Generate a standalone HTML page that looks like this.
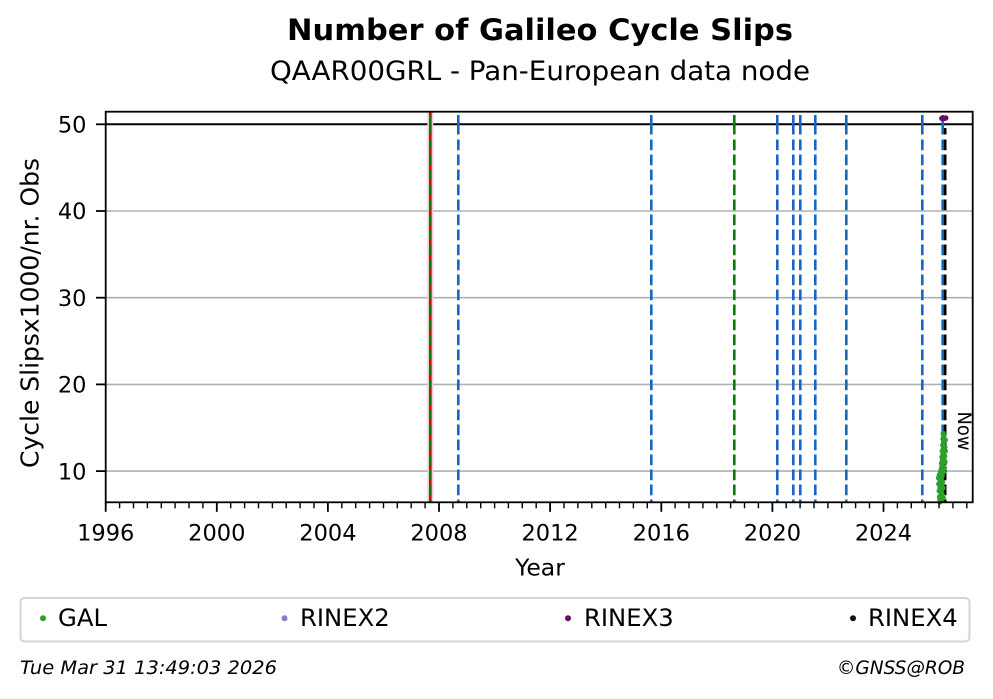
<!DOCTYPE html>
<html>
<head>
<meta charset="utf-8">
<style>
html,body{margin:0;padding:0;background:#fff;}
svg{display:block;}
text{font-family:"DejaVu Sans","Liberation Sans",sans-serif;fill:#000;}
</style>
</head>
<body>
<svg width="993" height="699" viewBox="0 0 993 699" xmlns="http://www.w3.org/2000/svg">
<rect x="0" y="0" width="993" height="699" fill="#fff"/>

<!-- Titles -->
<text x="540" y="40" text-anchor="middle" font-size="29" font-weight="bold" textLength="506" lengthAdjust="spacingAndGlyphs">Number of Galileo Cycle Slips</text>
<text x="540" y="80" text-anchor="middle" font-size="27" textLength="540" lengthAdjust="spacingAndGlyphs">QAAR00GRL - Pan-European data node</text>

<!-- Grid lines -->
<g stroke="#b0b0b0" stroke-width="1.6">
<line x1="105.7" y1="471.1" x2="972.7" y2="471.1"/>
<line x1="105.7" y1="384.4" x2="972.7" y2="384.4"/>
<line x1="105.7" y1="297.7" x2="972.7" y2="297.7"/>
<line x1="105.7" y1="211" x2="972.7" y2="211"/>
</g>
<!-- hline at 50 -->
<line x1="105.7" y1="124.3" x2="972.7" y2="124.3" stroke="#000" stroke-width="2"/>

<!-- Vertical event lines -->
<line x1="430.3" y1="111.7" x2="430.3" y2="502.3" stroke="#f6caca" stroke-width="6"/>
<line x1="430.3" y1="111.7" x2="430.3" y2="502.3" stroke="#e00000" stroke-width="2.6"/>
<g stroke="#0a7a0a" stroke-width="2.6">
<line x1="430.3" y1="115" x2="430.3" y2="134.5"/>
<line x1="430.3" y1="139.5" x2="430.3" y2="502.3" stroke-dasharray="10.7 4.3"/>
</g>

<g stroke="#1766c2" stroke-width="2.6">
<line x1="458.3" y1="115" x2="458.3" y2="134.5"/><line x1="458.3" y1="139.5" x2="458.3" y2="502.3" stroke-dasharray="10.7 4.3"/>
<line x1="651.3" y1="115" x2="651.3" y2="134.5"/><line x1="651.3" y1="139.5" x2="651.3" y2="502.3" stroke-dasharray="10.7 4.3"/>
<line x1="777.3" y1="115" x2="777.3" y2="134.5"/><line x1="777.3" y1="139.5" x2="777.3" y2="502.3" stroke-dasharray="10.7 4.3"/>
<line x1="793.3" y1="115" x2="793.3" y2="134.5"/><line x1="793.3" y1="139.5" x2="793.3" y2="502.3" stroke-dasharray="10.7 4.3"/>
<line x1="800.3" y1="115" x2="800.3" y2="134.5"/><line x1="800.3" y1="139.5" x2="800.3" y2="502.3" stroke-dasharray="10.7 4.3"/>
<line x1="815.3" y1="115" x2="815.3" y2="134.5"/><line x1="815.3" y1="139.5" x2="815.3" y2="502.3" stroke-dasharray="10.7 4.3"/>
<line x1="846.3" y1="115" x2="846.3" y2="134.5"/><line x1="846.3" y1="139.5" x2="846.3" y2="502.3" stroke-dasharray="10.7 4.3"/>
<line x1="922.3" y1="115" x2="922.3" y2="134.5"/><line x1="922.3" y1="139.5" x2="922.3" y2="502.3" stroke-dasharray="10.7 4.3"/>
<line x1="942.7" y1="115" x2="942.7" y2="134.5"/><line x1="942.7" y1="139.5" x2="942.7" y2="502.3" stroke-dasharray="10.7 4.3"/>
</g>
<g stroke="#0a7a0a" stroke-width="2.6">
<line x1="734.3" y1="115" x2="734.3" y2="134.5"/><line x1="734.3" y1="139.5" x2="734.3" y2="502.3" stroke-dasharray="10.7 4.3"/>
</g>
<g stroke="#000" stroke-width="2.6">
<line x1="945.2" y1="128" x2="945.2" y2="134.5"/><line x1="945.2" y1="139.5" x2="945.2" y2="502.3" stroke-dasharray="10.7 4.3"/>
</g>

<!-- GAL data points -->
<g fill="#2ca02c">
<circle cx="940" cy="500" r="2.7"/><circle cx="940.5" cy="496" r="2.7"/><circle cx="941" cy="492" r="2.7"/>
<circle cx="940" cy="488" r="2.7"/><circle cx="941.5" cy="485" r="2.7"/><circle cx="940.2" cy="481" r="2.7"/>
<circle cx="941" cy="478" r="2.7"/><circle cx="939.3" cy="475" r="2.7"/><circle cx="940.6" cy="472" r="2.7"/>
<circle cx="941.3" cy="469" r="2.7"/><circle cx="942" cy="466" r="2.7"/><circle cx="941.5" cy="463" r="2.7"/>
<circle cx="942.5" cy="460" r="2.7"/><circle cx="942" cy="457" r="2.7"/><circle cx="943" cy="454" r="2.7"/>
<circle cx="942.3" cy="451" r="2.7"/><circle cx="943.4" cy="448" r="2.7"/><circle cx="942.8" cy="445" r="2.7"/>
<circle cx="943.6" cy="442" r="2.7"/><circle cx="943" cy="439" r="2.7"/><circle cx="943.8" cy="436" r="2.7"/>
<circle cx="943.2" cy="433.5" r="2.7"/><circle cx="944.8" cy="447" r="2.7"/><circle cx="944.6" cy="456" r="2.7"/>
<circle cx="945" cy="462" r="2.7"/><circle cx="944.3" cy="468" r="2.7"/><circle cx="943.5" cy="472" r="2.7"/>
<circle cx="942" cy="476" r="2.7"/><circle cx="942.5" cy="482" r="2.7"/><circle cx="943" cy="488" r="2.7"/>
<circle cx="942" cy="494" r="2.7"/><circle cx="941.5" cy="499" r="2.7"/><circle cx="940" cy="502" r="2.7"/>
<circle cx="943.2" cy="498" r="2.7"/><circle cx="938.6" cy="478" r="2.7"/><circle cx="945.2" cy="440" r="2.7"/>
<circle cx="945.3" cy="451" r="2.7"/><circle cx="942.6" cy="470" r="2.7"/><circle cx="941.2" cy="474" r="2.7"/>
<circle cx="938.8" cy="484" r="2.7"/><circle cx="939.2" cy="491" r="2.7"/><circle cx="939.5" cy="497" r="2.7"/>
<circle cx="941.4" cy="488" r="2.7"/><circle cx="944" cy="459" r="2.7"/>
</g>
<!-- RINEX3 points -->
<g fill="#6b0a6b">
<circle cx="941.8" cy="118.3" r="2.7"/><circle cx="943.3" cy="118" r="2.7"/><circle cx="944.6" cy="118.3" r="2.7"/><circle cx="945.8" cy="118" r="2.7"/>
</g>

<!-- Now label -->
<text transform="translate(957.8,411.5) rotate(90)" font-size="19" textLength="39" lengthAdjust="spacingAndGlyphs">Now</text>

<!-- Axes frame -->
<rect x="105.7" y="111.7" width="867" height="390.6" fill="none" stroke="#000" stroke-width="1.8"/>

<!-- Y ticks -->
<g stroke="#000" stroke-width="1.8">
<line x1="96" y1="124.3" x2="105.7" y2="124.3"/>
<line x1="96" y1="211" x2="105.7" y2="211"/>
<line x1="96" y1="297.7" x2="105.7" y2="297.7"/>
<line x1="96" y1="384.4" x2="105.7" y2="384.4"/>
<line x1="96" y1="471.1" x2="105.7" y2="471.1"/>
</g>
<g font-size="22.5" text-anchor="end">
<text x="86.5" y="132.5">50</text>
<text x="86.5" y="219.2">40</text>
<text x="86.5" y="305.9">30</text>
<text x="86.5" y="392.6">20</text>
<text x="86.5" y="479.3">10</text>
</g>

<!-- X ticks -->
<g stroke="#000" stroke-width="1.8">
<line x1="105.7" y1="502.3" x2="105.7" y2="511.8"/>
<line x1="216.8" y1="502.3" x2="216.8" y2="511.8"/>
<line x1="327.9" y1="502.3" x2="327.9" y2="511.8"/>
<line x1="439" y1="502.3" x2="439" y2="511.8"/>
<line x1="550.1" y1="502.3" x2="550.1" y2="511.8"/>
<line x1="661.3" y1="502.3" x2="661.3" y2="511.8"/>
<line x1="772.4" y1="502.3" x2="772.4" y2="511.8"/>
<line x1="883.5" y1="502.3" x2="883.5" y2="511.8"/>
</g>
<g stroke="#000" stroke-width="1.4">
<line x1="119.6" y1="502.3" x2="119.6" y2="508.3"/><line x1="133.5" y1="502.3" x2="133.5" y2="508.3"/><line x1="147.4" y1="502.3" x2="147.4" y2="508.3"/><line x1="161.3" y1="502.3" x2="161.3" y2="508.3"/><line x1="175.1" y1="502.3" x2="175.1" y2="508.3"/><line x1="189" y1="502.3" x2="189" y2="508.3"/><line x1="202.9" y1="502.3" x2="202.9" y2="508.3"/>
<line x1="230.7" y1="502.3" x2="230.7" y2="508.3"/><line x1="244.6" y1="502.3" x2="244.6" y2="508.3"/><line x1="258.5" y1="502.3" x2="258.5" y2="508.3"/><line x1="272.4" y1="502.3" x2="272.4" y2="508.3"/><line x1="286.2" y1="502.3" x2="286.2" y2="508.3"/><line x1="300.1" y1="502.3" x2="300.1" y2="508.3"/><line x1="314" y1="502.3" x2="314" y2="508.3"/>
<line x1="341.8" y1="502.3" x2="341.8" y2="508.3"/><line x1="355.7" y1="502.3" x2="355.7" y2="508.3"/><line x1="369.6" y1="502.3" x2="369.6" y2="508.3"/><line x1="383.5" y1="502.3" x2="383.5" y2="508.3"/><line x1="397.3" y1="502.3" x2="397.3" y2="508.3"/><line x1="411.2" y1="502.3" x2="411.2" y2="508.3"/><line x1="425.1" y1="502.3" x2="425.1" y2="508.3"/>
<line x1="452.9" y1="502.3" x2="452.9" y2="508.3"/><line x1="466.8" y1="502.3" x2="466.8" y2="508.3"/><line x1="480.7" y1="502.3" x2="480.7" y2="508.3"/><line x1="494.6" y1="502.3" x2="494.6" y2="508.3"/><line x1="508.4" y1="502.3" x2="508.4" y2="508.3"/><line x1="522.3" y1="502.3" x2="522.3" y2="508.3"/><line x1="536.2" y1="502.3" x2="536.2" y2="508.3"/>
<line x1="564" y1="502.3" x2="564" y2="508.3"/><line x1="577.9" y1="502.3" x2="577.9" y2="508.3"/><line x1="591.8" y1="502.3" x2="591.8" y2="508.3"/><line x1="605.7" y1="502.3" x2="605.7" y2="508.3"/><line x1="619.5" y1="502.3" x2="619.5" y2="508.3"/><line x1="633.4" y1="502.3" x2="633.4" y2="508.3"/><line x1="647.3" y1="502.3" x2="647.3" y2="508.3"/>
<line x1="675.1" y1="502.3" x2="675.1" y2="508.3"/><line x1="689" y1="502.3" x2="689" y2="508.3"/><line x1="702.9" y1="502.3" x2="702.9" y2="508.3"/><line x1="716.8" y1="502.3" x2="716.8" y2="508.3"/><line x1="730.6" y1="502.3" x2="730.6" y2="508.3"/><line x1="744.5" y1="502.3" x2="744.5" y2="508.3"/><line x1="758.4" y1="502.3" x2="758.4" y2="508.3"/>
<line x1="786.2" y1="502.3" x2="786.2" y2="508.3"/><line x1="800.1" y1="502.3" x2="800.1" y2="508.3"/><line x1="814" y1="502.3" x2="814" y2="508.3"/><line x1="827.9" y1="502.3" x2="827.9" y2="508.3"/><line x1="841.7" y1="502.3" x2="841.7" y2="508.3"/><line x1="855.6" y1="502.3" x2="855.6" y2="508.3"/><line x1="869.5" y1="502.3" x2="869.5" y2="508.3"/>
<line x1="897.4" y1="502.3" x2="897.4" y2="508.3"/><line x1="911.3" y1="502.3" x2="911.3" y2="508.3"/><line x1="925.2" y1="502.3" x2="925.2" y2="508.3"/><line x1="939" y1="502.3" x2="939" y2="508.3"/><line x1="952.9" y1="502.3" x2="952.9" y2="508.3"/><line x1="966.8" y1="502.3" x2="966.8" y2="508.3"/>
</g>
<g font-size="22.5" text-anchor="middle">
<text x="105.7" y="540.7">1996</text>
<text x="216.8" y="540.7">2000</text>
<text x="327.9" y="540.7">2004</text>
<text x="439" y="540.7">2008</text>
<text x="550.1" y="540.7">2012</text>
<text x="661.3" y="540.7">2016</text>
<text x="772.4" y="540.7">2020</text>
<text x="883.5" y="540.7">2024</text>
</g>

<!-- Axis labels -->
<text x="540" y="575.5" text-anchor="middle" font-size="23.5">Year</text>
<text transform="translate(38.5,313) rotate(-90)" text-anchor="middle" font-size="24.5" textLength="310" lengthAdjust="spacingAndGlyphs">Cycle Slipsx1000/nr. Obs</text>

<!-- Legend -->
<rect x="20.5" y="598" width="949" height="43.5" rx="4" ry="4" fill="#fff" stroke="#d4d4d4" stroke-width="2"/>
<circle cx="43" cy="618.3" r="3" fill="#2ca02c"/>
<text x="58" y="626" font-size="24.3">GAL</text>
<circle cx="284.5" cy="618.3" r="3" fill="#8080c4"/>
<text x="300" y="626" font-size="24.3">RINEX2</text>
<circle cx="568" cy="618.3" r="3" fill="#6b0a6b"/>
<text x="584" y="626" font-size="24.3">RINEX3</text>
<circle cx="853" cy="618.3" r="3" fill="#1a0a1e"/>
<text x="868" y="626" font-size="24.3">RINEX4</text>

<!-- Footer -->
<text x="20" y="674" font-size="18.5" font-style="italic" textLength="257" lengthAdjust="spacingAndGlyphs">Tue Mar 31 13:49:03 2026</text>
<text x="965" y="674" font-size="18.5" font-style="italic" text-anchor="end">©GNSS@ROB</text>
</svg>
</body>
</html>
